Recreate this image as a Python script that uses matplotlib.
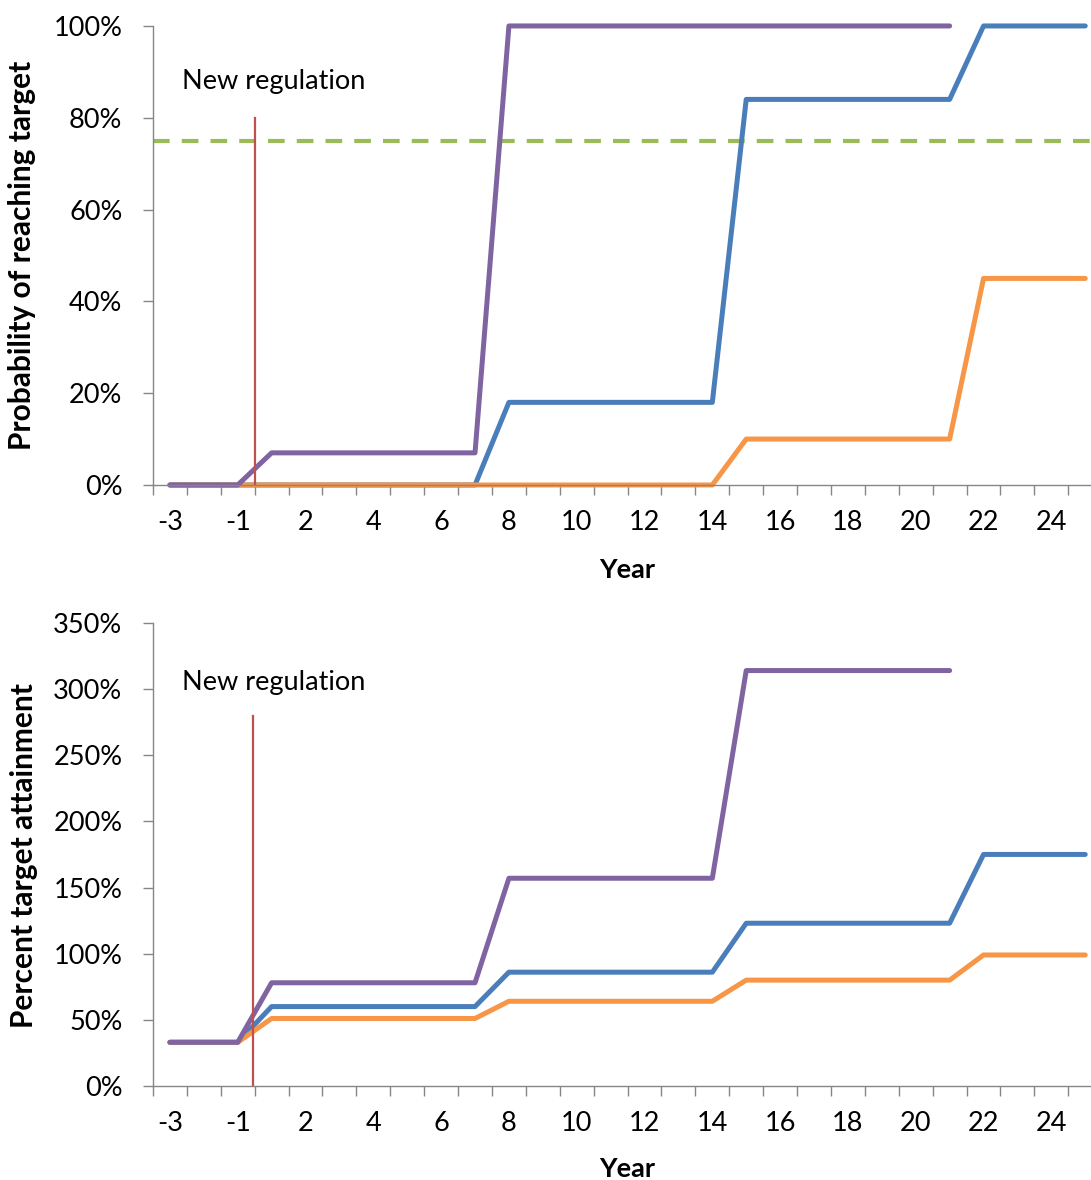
import numpy as np
import matplotlib
matplotlib.use('Agg')
import matplotlib.pyplot as plt
from matplotlib.ticker import FuncFormatter

plt.rcParams['font.family'] = ['Lato', 'DejaVu Sans']

# categories (there is no year 0)
years = [-3, -2, -1, 1, 2, 3, 4, 5, 6, 7, 8, 9, 10, 11, 12, 13, 14,
         15, 16, 17, 18, 19, 20, 21, 22, 23, 24, 25]
nan = float('nan')

# top chart: probability of reaching target
prob_blue = [0, 0, 0, 0, 0, 0, 0, 0, 0, 0,
             0.18, 0.18, 0.18, 0.18, 0.18, 0.18, 0.18,
             0.84, 0.84, 0.84, 0.84, 0.84, 0.84, 0.84,
             1.0, 1.0, 1.0, 1.0]
prob_orange = [0, 0, 0, 0, 0, 0, 0, 0, 0, 0,
               0, 0, 0, 0, 0, 0, 0,
               0.10, 0.10, 0.10, 0.10, 0.10, 0.10, 0.10,
               0.45, 0.45, 0.45, 0.45]
prob_purple = [0, 0, 0, 0.07, 0.07, 0.07, 0.07, 0.07, 0.07, 0.07,
               1.0, 1.0, 1.0, 1.0, 1.0, 1.0, 1.0,
               1.0, 1.0, 1.0, 1.0, 1.0, 1.0, 1.0,
               nan, nan, nan, nan]
target_level = 0.75

# bottom chart: percent target attainment
att_blue = [0.33, 0.33, 0.33, 0.60, 0.60, 0.60, 0.60, 0.60, 0.60, 0.60,
            0.86, 0.86, 0.86, 0.86, 0.86, 0.86, 0.86,
            1.23, 1.23, 1.23, 1.23, 1.23, 1.23, 1.23,
            1.75, 1.75, 1.75, 1.75]
att_orange = [0.33, 0.33, 0.33, 0.51, 0.51, 0.51, 0.51, 0.51, 0.51, 0.51,
              0.64, 0.64, 0.64, 0.64, 0.64, 0.64, 0.64,
              0.80, 0.80, 0.80, 0.80, 0.80, 0.80, 0.80,
              0.99, 0.99, 0.99, 0.99]
att_purple = [0.33, 0.33, 0.33, 0.78, 0.78, 0.78, 0.78, 0.78, 0.78, 0.78,
              1.57, 1.57, 1.57, 1.57, 1.57, 1.57, 1.57,
              3.14, 3.14, 3.14, 3.14, 3.14, 3.14, 3.14,
              nan, nan, nan, nan]

# regulation marker: between year -1 and year 1
reg_pos = 2.5
reg_top = [0.80, 2.80]

BLUE = '#4A7EBB'
ORANGE = '#F79646'
PURPLE = '#8064A2'
GREEN = '#9BBB59'
RED = '#C0504D'
GREY = '#868686'
FS = 19.5

fig = plt.figure(figsize=(10.91, 11.8), dpi=100)
ax1 = fig.add_axes([0.1402, 0.5890, 0.8598, 0.3890])
ax2 = fig.add_axes([0.1402, 0.0797, 0.8598, 0.3924])

x = np.arange(len(years))
pct = FuncFormatter(lambda v, p: '%d%%' % round(v * 100))


def style(ax, ymax, ystep):
    for s in ['top', 'right']:
        ax.spines[s].set_visible(False)
    for s in ['left', 'bottom']:
        ax.spines[s].set_color(GREY)
        ax.spines[s].set_linewidth(1.0)
    ax.set_yticks(np.arange(0, ymax + 1e-9, ystep))
    ax.yaxis.set_major_formatter(pct)
    ax.tick_params(axis='y', direction='out', length=7, width=1.0,
                   color=GREY, labelsize=FS, pad=15)
    # tick marks between categories, labels on every other category
    ax.set_xticks(np.arange(-0.5, 28, 1.0))
    ax.set_xticklabels([])
    ax.set_xticks(x[::2], minor=True)
    ax.set_xticklabels([str(y) for y in years[::2]], minor=True)
    ax.tick_params(axis='x', which='major', direction='out', length=7,
                   width=1.0, color=GREY)
    ax.tick_params(axis='x', which='minor', length=0, labelsize=FS, pad=18)
    # limits last, set_xticks would widen them
    ax.set_xlim(-0.5, 27.17)
    ax.set_ylim(0, ymax)


def series(ax, vals, color):
    ax.plot(x, vals, color=color, lw=3.6, solid_joinstyle='round',
            solid_capstyle='round', clip_on=False)


# top
style(ax1, 1.0, 0.2)
l = ax1.axhline(target_level, color=GREEN, lw=3.0)
l.set_dashes([4.0, 2.9])
series(ax1, prob_blue, BLUE)
series(ax1, prob_orange, ORANGE)
series(ax1, prob_purple, PURPLE)
ax1.plot([reg_pos, reg_pos], [0, reg_top[0]], color=RED, lw=1.6)
ax1.text(0.35, 0.878, 'New regulation', fontsize=FS, va='center', ha='left')

# bottom
style(ax2, 3.5, 0.5)
series(ax2, att_blue, BLUE)
series(ax2, att_orange, ORANGE)
series(ax2, att_purple, PURPLE)
ax2.plot([reg_pos - 0.05, reg_pos - 0.05], [0, reg_top[1]], color=RED, lw=1.6)
ax2.text(0.35, 3.046, 'New regulation', fontsize=FS, va='center', ha='left')

fig.text(0.020, 0.784, 'Probability of reaching target', rotation=90,
         fontsize=21.5, fontweight='bold', ha='center', va='center')
fig.text(0.022, 0.275, 'Percent target attainment', rotation=90,
         fontsize=21.5, fontweight='bold', ha='center', va='center')
fig.text(0.575, 0.517, 'Year', fontsize=FS, fontweight='bold',
         ha='center', va='center')
fig.text(0.575, 0.009, 'Year', fontsize=FS, fontweight='bold',
         ha='center', va='center')

fig.savefig('out.png', dpi=100)
